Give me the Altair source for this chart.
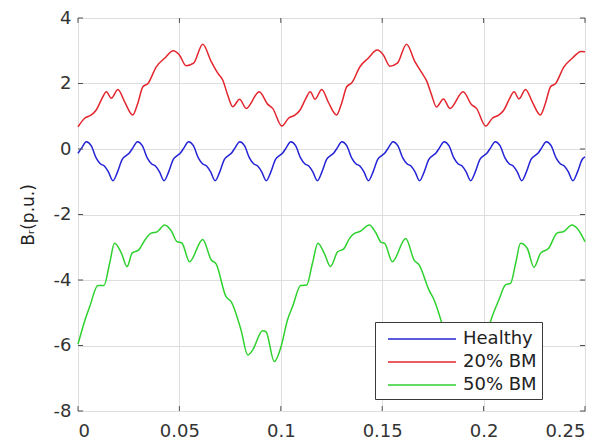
import altair as alt
import pandas as pd

X_TICKS = [0, 0.05, 0.1, 0.15, 0.2, 0.25]
Y_TICKS = [-8, -6, -4, -2, 0, 2, 4]
SERIES = ["Healthy", "20% BM", "50% BM"]
COLORS = ["#2424d6", "#e3262e", "#2ed12e"]

healthy_x = [
    0.0000, 0.0020, 0.0041, 0.0065, 0.0090, 0.0110, 0.0130, 0.0150, 0.0172, 0.0195, 0.0218, 0.0238,
    0.0252, 0.0272, 0.0293, 0.0317, 0.0342, 0.0362, 0.0382, 0.0402, 0.0424, 0.0447, 0.0470, 0.0490,
    0.0504, 0.0524, 0.0545, 0.0569, 0.0594, 0.0614, 0.0634, 0.0654, 0.0676, 0.0699, 0.0722, 0.0742,
    0.0756, 0.0776, 0.0797, 0.0821, 0.0846, 0.0866, 0.0886, 0.0906, 0.0928, 0.0951, 0.0974, 0.0994,
    0.1008, 0.1028, 0.1049, 0.1073, 0.1098, 0.1118, 0.1138, 0.1158, 0.1180, 0.1203, 0.1226, 0.1246,
    0.1260, 0.1280, 0.1301, 0.1325, 0.1350, 0.1370, 0.1390, 0.1410, 0.1432, 0.1455, 0.1478, 0.1498,
    0.1512, 0.1532, 0.1553, 0.1577, 0.1602, 0.1622, 0.1642, 0.1662, 0.1684, 0.1707, 0.1730, 0.1750,
    0.1764, 0.1784, 0.1805, 0.1829, 0.1854, 0.1874, 0.1894, 0.1914, 0.1936, 0.1959, 0.1982, 0.2002,
    0.2016, 0.2036, 0.2057, 0.2081, 0.2106, 0.2126, 0.2146, 0.2166, 0.2188, 0.2211, 0.2234, 0.2254,
    0.2268, 0.2288, 0.2309, 0.2333, 0.2358, 0.2378, 0.2398, 0.2418, 0.2440, 0.2463, 0.2486, 0.2500,
]
healthy_y = [
    -0.13, 0.05, 0.22, 0.10, -0.28, -0.45, -0.52, -0.70, -0.97, -0.70, -0.32, -0.20,
    -0.13, 0.05, 0.22, 0.10, -0.28, -0.45, -0.52, -0.70, -0.97, -0.70, -0.32, -0.20,
    -0.13, 0.05, 0.22, 0.10, -0.28, -0.45, -0.52, -0.70, -0.97, -0.70, -0.32, -0.20,
    -0.13, 0.05, 0.22, 0.10, -0.28, -0.45, -0.52, -0.70, -0.97, -0.70, -0.32, -0.20,
    -0.13, 0.05, 0.22, 0.10, -0.28, -0.45, -0.52, -0.70, -0.97, -0.70, -0.32, -0.20,
    -0.13, 0.05, 0.22, 0.10, -0.28, -0.45, -0.52, -0.70, -0.97, -0.70, -0.32, -0.20,
    -0.13, 0.05, 0.22, 0.10, -0.28, -0.45, -0.52, -0.70, -0.97, -0.70, -0.32, -0.20,
    -0.13, 0.05, 0.22, 0.10, -0.28, -0.45, -0.52, -0.70, -0.97, -0.70, -0.32, -0.20,
    -0.13, 0.05, 0.22, 0.10, -0.28, -0.45, -0.52, -0.70, -0.97, -0.70, -0.32, -0.20,
    -0.13, 0.05, 0.22, 0.10, -0.28, -0.45, -0.52, -0.70, -0.97, -0.70, -0.32, -0.24,
]

bm20_x = [
    0.0000, 0.0033, 0.0066, 0.0090, 0.0115, 0.0140, 0.0164, 0.0197, 0.0230, 0.0270, 0.0295,
    0.0320, 0.0345, 0.0386, 0.0427, 0.0470, 0.0500, 0.0533, 0.0570, 0.0615, 0.0657, 0.0690,
    0.0714, 0.0738, 0.0763, 0.0797, 0.0829, 0.0894, 0.0935, 0.0960, 0.1005,
    0.1038, 0.1071, 0.1095, 0.1120, 0.1145, 0.1169, 0.1202, 0.1235, 0.1275, 0.1300, 0.1325,
    0.1350, 0.1391, 0.1432, 0.1475, 0.1505, 0.1538, 0.1575, 0.1620, 0.1662, 0.1695, 0.1719,
    0.1743, 0.1768, 0.1802, 0.1834, 0.1899, 0.1940, 0.1965, 0.2010,
    0.2043, 0.2076, 0.2100, 0.2125, 0.2150, 0.2174, 0.2207, 0.2240, 0.2280, 0.2305, 0.2330,
    0.2355, 0.2396, 0.2437, 0.2480, 0.2500,
]
bm20_y = [
    0.68, 0.94, 1.04, 1.19, 1.50, 1.75, 1.55, 1.82, 1.44, 1.04, 1.40,
    1.90, 2.00, 2.51, 2.77, 3.00, 2.87, 2.54, 2.62, 3.20, 2.67, 2.31,
    2.10, 1.65, 1.29, 1.52, 1.24, 1.75, 1.37, 1.24, 0.70,
    0.94, 1.04, 1.19, 1.50, 1.75, 1.52, 1.82, 1.42, 1.04, 1.40, 1.90,
    2.02, 2.52, 2.78, 3.02, 2.88, 2.53, 2.62, 3.20, 2.66, 2.33, 2.08,
    1.66, 1.28, 1.53, 1.24, 1.75, 1.36, 1.24, 0.70,
    0.94, 1.04, 1.19, 1.50, 1.75, 1.53, 1.82, 1.44, 1.04, 1.40, 1.90,
    2.00, 2.51, 2.77, 2.98, 2.97,
]

bm50_x = [
    0.0000, 0.0033, 0.0058, 0.0098, 0.0128, 0.0156, 0.0180, 0.0214, 0.0242, 0.0267, 0.0300,
    0.0330, 0.0361, 0.0390, 0.0427, 0.0460, 0.0488, 0.0512, 0.0550, 0.0615, 0.0657, 0.0681,
    0.0730, 0.0755, 0.0804, 0.0837, 0.0861, 0.0910, 0.0927, 0.0968, 0.1001,
    0.1033, 0.1058, 0.1098, 0.1128, 0.1156, 0.1183, 0.1214, 0.1245, 0.1280, 0.1310, 0.1340,
    0.1365, 0.1390, 0.1436, 0.1468, 0.1495, 0.1512, 0.1550, 0.1616, 0.1658, 0.1682, 0.1731,
    0.1756, 0.1804, 0.1837, 0.1861, 0.1910, 0.1927, 0.1968, 0.2001,
    0.2034, 0.2075, 0.2108, 0.2133, 0.2158, 0.2182, 0.2215, 0.2248, 0.2281, 0.2321, 0.2362,
    0.2395, 0.2436, 0.2461, 0.2500,
]
bm50_y = [
    -5.96, -5.25, -4.81, -4.17, -4.17, -3.49, -2.88, -3.18, -3.59, -3.18, -3.08,
    -2.78, -2.57, -2.53, -2.32, -2.50, -2.83, -2.87, -3.44, -2.76, -3.39, -3.51,
    -4.51, -4.66, -5.53, -6.29, -6.14, -5.55, -5.58, -6.49, -6.04,
    -5.22, -4.81, -4.17, -4.15, -3.49, -2.88, -3.18, -3.59, -3.14, -3.05, -2.72,
    -2.57, -2.52, -2.32, -2.55, -2.85, -2.88, -3.44, -2.73, -3.40, -3.54, -4.31,
    -4.61, -5.53, -6.29, -6.14, -5.55, -5.58, -6.49, -6.04,
    -5.27, -4.61, -4.15, -4.10, -3.49, -2.88, -3.03, -3.61, -3.18, -3.03, -2.57,
    -2.52, -2.32, -2.42, -2.83,
]

rows = []
for name, xs, ys in [("Healthy", healthy_x, healthy_y),
                     ("20% BM", bm20_x, bm20_y),
                     ("50% BM", bm50_x, bm50_y)]:
    for x, y in zip(xs, ys):
        rows.append({"t": x, "b": y, "series": name})
df = pd.DataFrame(rows)

# inward tick marks (MATLAB style box ticks), in data units
TICK_DX = 0.0025
TICK_DY = 0.15
trows = []
for v in X_TICKS:
    trows.append({"t": v, "t2": v, "b": -8, "b2": -8 + TICK_DY})
    trows.append({"t": v, "t2": v, "b": 4, "b2": 4 - TICK_DY})
for v in Y_TICKS:
    trows.append({"t": 0, "t2": TICK_DX, "b": v, "b2": v})
    trows.append({"t": 0.25, "t2": 0.25 - TICK_DX, "b": v, "b2": v})
tdf = pd.DataFrame(trows)

FONT = "DejaVu Sans"

xscale = alt.Scale(domain=[0, 0.25], nice=False)
yscale = alt.Scale(domain=[-8, 4], nice=False)
xaxis = alt.Axis(values=X_TICKS, labelExpr="'' + datum.value", title=None,
                 grid=True, ticks=False, domain=False, labelPadding=11)
yaxis = alt.Axis(values=Y_TICKS, labelExpr="'' + datum.value", title="Bᵣ(p.u.)",
                 grid=True, ticks=False, domain=False, labelPadding=7, titlePadding=16)

lines = alt.Chart(df).mark_line(strokeWidth=1.5, interpolate="monotone").encode(
    x=alt.X("t:Q", scale=xscale, axis=xaxis),
    y=alt.Y("b:Q", scale=yscale, axis=yaxis),
    color=alt.Color("series:N", scale=alt.Scale(domain=SERIES, range=COLORS), title=None,
                    legend=alt.Legend(orient="none", legendX=297, legendY=304,
                                      fillColor="white", strokeColor="#3a3a3a",
                                      padding=5, symbolOffset=30, labelOffset=29,
                                      rowPadding=2, symbolType="M-3.09,0H3.09",
                                      symbolSize=484, symbolStrokeWidth=1.5,
                                      labelFont=FONT, labelFontSize=18,
                                      labelColor="#222222")),
)

ticks = alt.Chart(tdf).mark_rule(color="#505050", strokeWidth=1).encode(
    x=alt.X("t:Q", scale=xscale, axis=xaxis),
    x2="t2:Q",
    y=alt.Y("b:Q", scale=yscale, axis=yaxis),
    y2="b2:Q",
)

chart = alt.layer(lines, ticks).properties(
    width=507, height=393,
    autosize=alt.AutoSizeParams(type="none"),
    padding={"left": 70, "top": 10, "right": 20, "bottom": 31},
).configure_view(
    stroke="#505050", strokeWidth=1
).configure_axis(
    labelFont=FONT, labelFontSize=18, labelColor="#333333",
    titleFont=FONT, titleFontSize=17, titleFontWeight="normal", titleColor="#222222",
    gridColor="#dedede", gridWidth=1,
)

chart.save("out.html", embed_options={"renderer": "svg", "actions": False})
